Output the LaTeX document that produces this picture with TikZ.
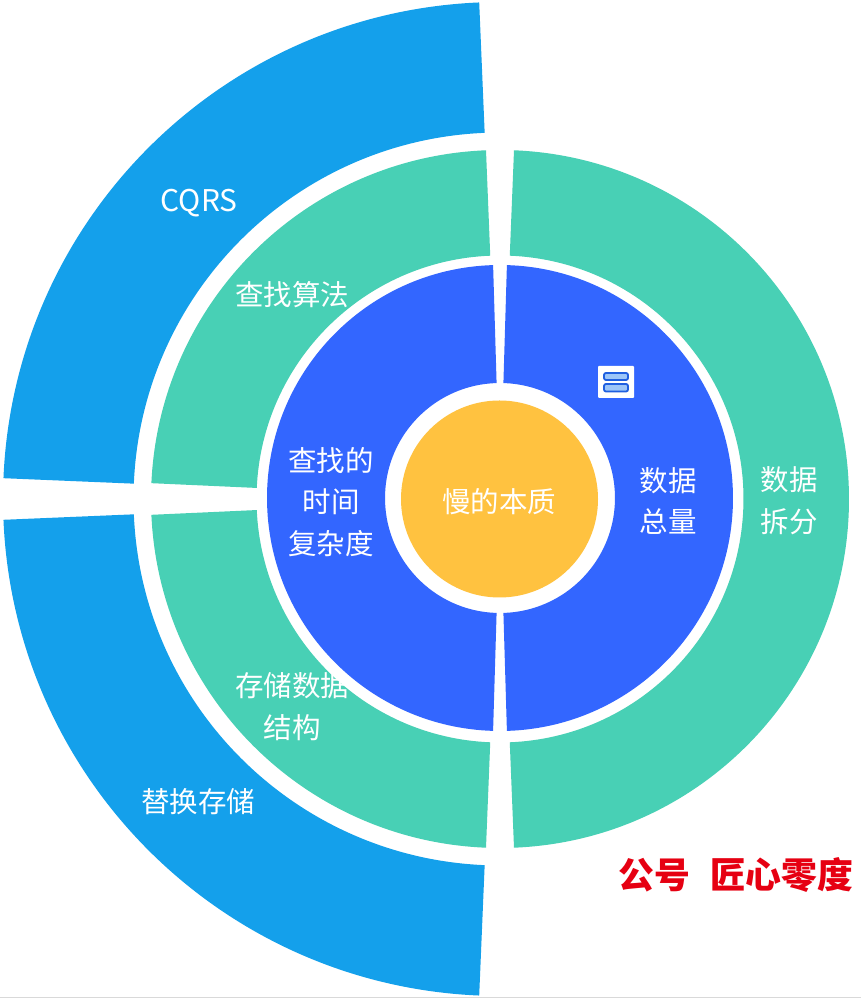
\documentclass[tikz,border=0pt]{standalone}
\usepackage{fontspec}
\newfontfamily\cjk{Noto Sans CJK SC}
\definecolor{outerblue}{HTML}{14A0EB}
\definecolor{midgreen}{HTML}{48D0B5}
\definecolor{innerblue}{HTML}{3366FF}
\definecolor{coreorange}{HTML}{FFC240}
\definecolor{markred}{HTML}{E60012}
\definecolor{iconedge}{HTML}{1F5FE0}
\definecolor{iconfill}{HTML}{9CC5F8}
\newcommand{\ringseg}[5]{%
  \fill[#1] (#4:#3) arc[start angle=#4,end angle=#5,radius=#3]
    -- (#5:#2) arc[start angle=#5,end angle=#4,radius=#2] -- cycle;}
\tikzset{
  lbl/.style={text=white,align=center,inner sep=0pt,font=\cjk\fontsize{28.6}{42}\selectfont},
  iconbar/.style={draw=iconedge,fill=iconfill,line width=1.8bp,rounded corners=2bp}
}
\begin{document}
\begin{tikzpicture}[x=1bp,y=1bp]
\useasboundingbox (0,0) rectangle (861,999);
\fill[white] (0,0) rectangle (861,999);
\draw[black!15,line width=1bp] (0,1.5) -- (861,1.5);
\begin{scope}[shift={(500,500)}]
  % outer ring
  \ringseg{outerblue}{366.5}{497}{92.4}{177.6}
  \ringseg{outerblue}{366.5}{497}{182.4}{267.6}
  % middle ring
  \ringseg{midgreen}{243.5}{349}{92.3}{177.4}
  \ringseg{midgreen}{243.5}{349}{182.6}{267.7}
  \ringseg{midgreen}{243.5}{349}{-87.7}{87.7}
\end{scope}
\begin{scope}[shift={(500,501)}]
  % inner ring
  \ringseg{innerblue}{115}{233}{91.7}{268.3}
  \ringseg{innerblue}{115}{233}{-88.3}{88.3}
\end{scope}
% core
\fill[coreorange] (499.5,500) circle[radius=98.5];
% icon
\fill[white,rounded corners=1bp] (598,601) rectangle (634,633);
\draw[iconbar] (604,619) rectangle (628,626);
\draw[iconbar] (604,607.5) rectangle (628,615);
% labels
\node[lbl] (core) at (499,497) {慢的本质};
\node[lbl,font=\cjk\fontsize{30}{42}\selectfont] (cqrs) at (199,796) {CQRS};
\node[lbl] (algo) at (292,704) {查找算法};
\node[lbl] (time) at (331,497) {查找的\\时间\\复杂度};
\node[lbl] (total) at (668,498) {数据\\总量};
\node[lbl] (split) at (789,498) {数据\\拆分};
\node[lbl] (struct) at (292,292) {存储数据\\结构};
\node[lbl] (replace) at (198,197) {替换存储};
\node[inner sep=0pt,text=markred,font=\cjk\bfseries\fontsize{36}{40}\selectfont] (mark) at (736,124) {公号\hspace{0.55em}匠心零度};
\end{tikzpicture}
\end{document}
